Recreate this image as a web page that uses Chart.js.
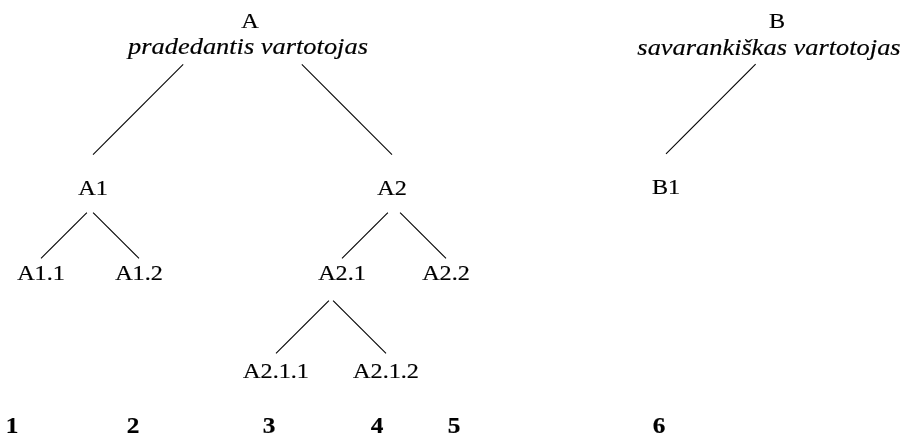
<!DOCTYPE html>
<html>
<head>
<meta charset="utf-8">
<script src="https://cdn.jsdelivr.net/npm/chart.js@4"></script>
<style>
    html, body { margin: 0; padding: 0; background: #fff; }
    #wrap { width: 903px; height: 439px; }
</style>
</head>
<body>
<div id="wrap"><canvas id="treeChart" width="903" height="439"></canvas></div>
<script>
// mazgai (nodes) - x centre and text baseline in chart units
const nodeNames = ['A', 'B', 'A1', 'A2', 'B1', 'A1.1', 'A1.2', 'A2.1', 'A2.2', 'A2.1.1', 'A2.1.2'];
const nodeX = [250, 777, 93, 392, 666, 41, 139, 342, 446, 276, 386];
const nodeY = [28, 28, 195, 195, 194, 280, 280, 280, 280, 378, 378];

// paaiškinimai po šaknimis
const noteText = ['pradedantis vartotojas', 'savarankiškas vartotojas'];
const noteX = [248, 769];
const noteY = [54, 55];

// briaunos: tėvas -> vaikas
const edgeFrom = [0, 0, 1, 2, 2, 3, 3, 7, 7];
const edgeTo = [2, 3, 4, 5, 6, 7, 8, 9, 10];

// stulpelių numeriai apačioje
const colLabels = ['1', '2', '3', '4', '5', '6'];
const colX = [12, 133, 269, 377, 454, 659];
const colY = 433;

// each branch is a 45 degree segment, centred between the two rows, ending above the child
const edgeSets = edgeFrom.map(function (p, k) {
    const c = edgeTo[k];
    const s = Math.sign(nodeX[c] - nodeX[p]);
    const dist = nodeY[c] - nodeY[p];
    const mid = (nodeY[c] + nodeY[p]) / 2 - 2;
    const len = dist * 0.54;
    const y1 = mid - len / 2, y2 = mid + len / 2;
    return {
        data: [{ x: nodeX[c] - s * len, y: y1 }, { x: nodeX[c], y: y2 }],
        borderColor: '#000',
        borderWidth: 1.1,
        pointRadius: 0,
        showLine: true,
        fill: false
    };
});

function drawText(ctx, txt, x, y, font) {
    ctx.save();
    ctx.font = font;
    ctx.translate(x, y);
    ctx.scale(1.1, 1);
    ctx.fillText(txt, 0, 0);
    ctx.lineWidth = 0.2;
    ctx.strokeText(txt, 0, 0);
    ctx.restore();
}

const labelsPlugin = {
    id: 'treeLabels',
    afterDatasetsDraw(chart) {
        const ctx = chart.ctx;
        const xs = chart.scales.x, ys = chart.scales.y;
        ctx.save();
        ctx.fillStyle = '#000';
        ctx.strokeStyle = '#000';
        ctx.textAlign = 'center';
        ctx.textBaseline = 'alphabetic';
        nodeNames.forEach(function (name, i) {
            drawText(ctx, name, xs.getPixelForValue(nodeX[i]), ys.getPixelForValue(nodeY[i]),
                '22px "Liberation Serif", serif');
        });
        noteText.forEach(function (t, i) {
            drawText(ctx, t, xs.getPixelForValue(noteX[i]), ys.getPixelForValue(noteY[i]),
                'italic 24px "Liberation Serif", serif');
        });
        colLabels.forEach(function (t, i) {
            drawText(ctx, t, xs.getPixelForValue(colX[i]), ys.getPixelForValue(colY),
                'bold 23px "Liberation Serif", serif');
        });
        ctx.restore();
    }
};

const ctx = document.getElementById('treeChart').getContext('2d');
const treeChart = new Chart(ctx, {
    type: 'scatter',
    data: { datasets: edgeSets },
    options: {
        responsive: false,
        animation: false,
        layout: { padding: 0 },
        scales: {
            x: { type: 'linear', min: 0, max: 903, display: false },
            y: { type: 'linear', min: 0, max: 439, reverse: true, display: false }
        },
        plugins: {
            legend: { display: false },
            tooltip: { enabled: false }
        }
    },
    plugins: [labelsPlugin]
});
</script>
</body>
</html>
